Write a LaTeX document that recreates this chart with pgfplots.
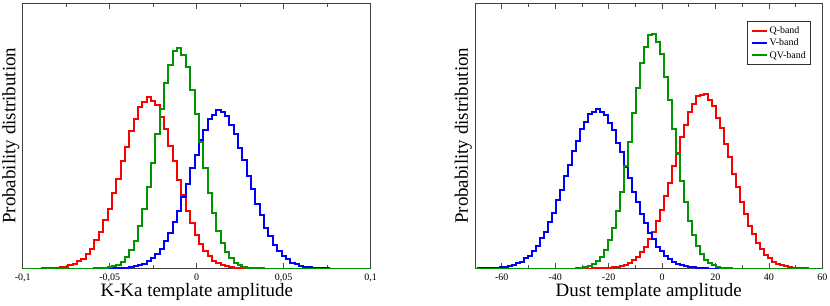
\documentclass[border=0pt]{standalone}
\usepackage{fontspec}
\setmainfont{Liberation Serif}
\usepackage{pgfplots}
\pgfplotsset{compat=1.18}
\usepackage{pgfplotstable}
\definecolor{Qred}{rgb}{1,0,0}
\definecolor{Vblue}{rgb}{0,0,1}
\definecolor{QVgreen}{rgb}{0,0.58,0}

\pgfplotstableread{
x y
-0.1000 0
-0.0900 0
-0.0875 0.1
-0.0850 0.2
-0.0825 0.4
-0.0800 0.7
-0.0775 1.3
-0.0750 1.8
-0.0725 3.1
-0.0700 4.5
-0.0675 7.2
-0.0650 9.8
-0.0625 14.9
-0.0600 19.8
-0.0575 28.3
-0.0550 36.1
-0.0525 48.6
-0.0500 59.7
-0.0475 75.9
-0.0450 89.6
-0.0425 107.4
-0.0400 121.3
-0.0375 138.0
-0.0350 149.1
-0.0325 161.0
-0.0300 166.2
-0.0275 171.2
-0.0250 167.6
-0.0225 163.3
-0.0200 151.6
-0.0175 140.0
-0.0150 122.5
-0.0125 107.3
-0.0100 88.6
-0.0075 73.8
-0.0050 57.3
-0.0025 45.4
0.0000 33.1
0.0025 25.0
0.0050 17.1
0.0075 12.4
0.0100 7.9
0.0125 5.4
0.0150 3.3
0.0175 2.1
0.0200 1.3
0.0225 0.7
0.0250 0.4
0.0275 0.2
0.0300 0.1
0.0325 0
0.1000 0
}\LQ

\pgfplotstableread{
x y
-0.1000 0
-0.0500 0
-0.0475 0.1
-0.0450 0.2
-0.0425 0.5
-0.0400 0.8
-0.0375 1.3
-0.0350 2.1
-0.0325 3.3
-0.0300 4.8
-0.0275 7.3
-0.0250 10.2
-0.0225 14.9
-0.0200 20.0
-0.0175 27.8
-0.0150 35.4
-0.0125 46.8
-0.0100 57.2
-0.0075 71.8
-0.0050 84.3
-0.0025 100.5
0.0000 113.1
0.0025 128.2
0.0050 138.3
0.0075 149.1
0.0100 153.8
0.0125 158.1
0.0150 156.0
0.0175 152.9
0.0200 143.6
0.0225 134.8
0.0250 120.7
0.0275 108.5
0.0300 92.4
0.0325 79.6
0.0350 64.3
0.0375 53.1
0.0400 40.8
0.0425 32.4
0.0450 23.6
0.0475 17.9
0.0500 12.5
0.0525 9.1
0.0550 5.9
0.0575 4.2
0.0600 2.6
0.0625 1.8
0.0650 1.1
0.0675 0.7
0.0700 0.4
0.0725 0.2
0.0750 0.1
0.0775 0
0.1000 0
}\LV

\pgfplotstableread{
x y
-0.1000 0
-0.0600 0
-0.0575 0.1
-0.0550 0.3
-0.0525 0.6
-0.0500 1.1
-0.0475 2.1
-0.0450 3.8
-0.0425 6.9
-0.0400 11.2
-0.0375 18.6
-0.0350 28.0
-0.0325 42.5
-0.0300 59.1
-0.0275 82.0
-0.0250 105.8
-0.0225 134.1
-0.0200 159.6
-0.0175 185.5
-0.0150 203.4
-0.0125 217.3
-0.0100 220.6
-0.0075 213.5
-0.0050 201.1
-0.0025 178.4
0.0000 154.9
0.0025 126.1
0.0050 100.9
0.0075 75.3
0.0100 55.8
0.0125 37.9
0.0150 25.9
0.0175 16.1
0.0200 10.3
0.0225 5.8
0.0250 3.4
0.0275 1.8
0.0300 0.9
0.0325 0.5
0.0350 0.2
0.0375 0.1
0.0400 0
0.1000 0
}\LQV

\pgfplotstableread{
x y
-70.0 0
-27.0 0
-25.5 0.1
-24.0 0.2
-22.5 0.3
-21.0 0.4
-19.5 0.7
-18.0 1.1
-16.5 1.8
-15.0 2.5
-13.5 4.0
-12.0 5.6
-10.5 8.4
-9.0 11.4
-7.5 16.3
-6.0 21.4
-4.5 29.2
-3.0 36.8
-1.5 48.0
0.0 58.5
1.5 72.9
3.0 85.8
4.5 102.1
6.0 115.7
7.5 131.8
9.0 143.9
10.5 156.9
12.0 164.6
13.5 172.3
15.0 173.7
16.5 174.4
18.0 168.8
19.5 162.7
21.0 150.9
22.5 140.1
24.0 124.6
25.5 111.2
27.0 94.6
28.5 81.3
30.0 66.1
31.5 54.9
33.0 42.6
34.5 34.2
36.0 25.3
37.5 19.5
39.0 13.8
40.5 10.3
42.0 6.9
43.5 5.0
45.0 3.2
46.5 2.2
48.0 1.4
49.5 0.9
51.0 0.6
52.5 0.3
54.0 0.2
55.5 0
60.0 0
}\RQ

\pgfplotstableread{
x y
-70.0 0
-67.5 0.1
-66.0 0.2
-64.5 0.3
-63.0 0.5
-61.5 0.7
-60.0 1.2
-58.5 1.6
-57.0 2.6
-55.5 3.5
-54.0 5.3
-52.5 6.9
-51.0 10.1
-49.5 12.9
-48.0 18.0
-46.5 22.6
-45.0 30.1
-43.5 36.8
-42.0 46.9
-40.5 55.7
-39.0 68.2
-37.5 78.8
-36.0 92.6
-34.5 103.8
-33.0 117.7
-31.5 127.6
-30.0 139.4
-28.5 146.3
-27.0 154.2
-25.5 156.6
-24.0 159.2
-22.5 156.1
-21.0 153.5
-19.5 145.2
-18.0 138.3
-16.5 126.0
-15.0 116.1
-13.5 102.0
-12.0 91.0
-10.5 76.9
-9.0 66.7
-7.5 54.1
-6.0 45.6
-4.5 35.6
-3.0 29.2
-1.5 21.7
0.0 17.4
1.5 12.4
3.0 9.6
4.5 6.6
6.0 5.0
7.5 3.3
9.0 2.4
10.5 1.5
12.0 1.1
13.5 0.7
15.0 0.4
16.5 0.2
18.0 0
60.0 0
}\RV

\pgfplotstableread{
x y
-70.0 0
-33.0 0
-31.5 0.4
-30.0 0.7
-28.5 1.3
-27.0 2.4
-25.5 4.3
-24.0 7.1
-22.5 11.9
-21.0 18.2
-19.5 28.3
-18.0 40.3
-16.5 57.8
-15.0 77.0
-13.5 102.1
-12.0 127.0
-10.5 155.8
-9.0 180.4
-7.5 205.1
-6.0 221.0
-4.5 233.0
-3.0 234.6
-1.5 226.8
0.0 214.1
1.5 191.7
3.0 168.3
4.5 139.6
6.0 114.2
7.5 87.6
9.0 66.9
10.5 47.4
12.0 33.8
13.5 22.1
15.0 14.7
16.5 8.9
18.0 5.5
19.5 3.1
21.0 1.8
22.5 0.9
24.0 0.5
25.5 0.2
27.0 0
60.0 0
}\RQV

\pgfplotsset{
  chartstyle/.style={
    scale only axis,
    width=348bp, height=265.5bp,
    ymin=0, ymax=265.5,
    ytick=\empty,
    axis line style={black!75, line width=0.8bp},
    tick style={black!70, line width=0.6bp},
    major tick length=6bp, minor tick length=4bp,
    tick align=inside,
    xtick pos=both,
    /pgf/number format/assume math mode=true,
    xticklabel style={font=\fontsize{10}{12}\selectfont, anchor=base, yshift=-11.5bp, inner sep=0pt},
    xlabel style={font=\fontsize{19}{22}\selectfont, at={(axis description cs:0.5,-0.1036)}, anchor=base, inner sep=0pt},
    ylabel style={font=\fontsize{19}{22}\selectfont, at={(axis description cs:-0.0207,0.5)}, anchor=base, inner sep=0pt},
    every axis plot/.append style={const plot mark mid, no markers, line width=2bp, line join=miter},
  }
}

\begin{document}
\begin{tikzpicture}[x=1bp,y=1bp]
\path[use as bounding box] (0,0) rectangle (830,305);

\begin{axis}[chartstyle,
  at={(22.7bp,36.5bp)}, anchor=south west,
  xmin=-0.1, xmax=0.1,
  xtick={-0.1,-0.05,0,0.05,0.1},
  xticklabels={{-0,1},{-0,05},{0},{0,05},{0,1}},
  minor xtick={-0.075,-0.025,0.025,0.075},
  xlabel={K-Ka template amplitude},
  ylabel={Probability distribution},
]
\addplot[Qred] table[x=x,y=y] {\LQ};
\addplot[Vblue] table[x=x,y=y] {\LV};
\addplot[QVgreen] table[x=x,y=y] {\LQV};
\end{axis}

\begin{axis}[chartstyle,
  at={(475bp,36.5bp)}, anchor=south west,
  width=347.3bp,
  xmin=-70, xmax=60,
  xtick={-60,-40,-20,0,20,40,60},
  xticklabels={{-60},{-40},{-20},{0},{20},{40},{60}},
  minor xtick={-50,-30,-10,10,30,50},
  xlabel={Dust template amplitude},
  ylabel={Probability distribution},
  legend style={at={(0.9675,0.932)}, anchor=north east, draw=black!80, line width=0.6bp,
    font=\fontsize{10}{12}\selectfont, inner xsep=3bp, inner ysep=3bp, row sep=0bp,
    cells={anchor=west}},
  legend image code/.code={\draw[#1, line width=2bp] (0bp,0bp) -- (15bp,0bp);},
]
\addplot[Qred] table[x=x,y=y] {\RQ};
\addlegendentry{Q-band}
\addplot[Vblue] table[x=x,y=y] {\RV};
\addlegendentry{V-band}
\addplot[QVgreen] table[x=x,y=y] {\RQV};
\addlegendentry{QV-band}
\end{axis}
\end{tikzpicture}
\end{document}
